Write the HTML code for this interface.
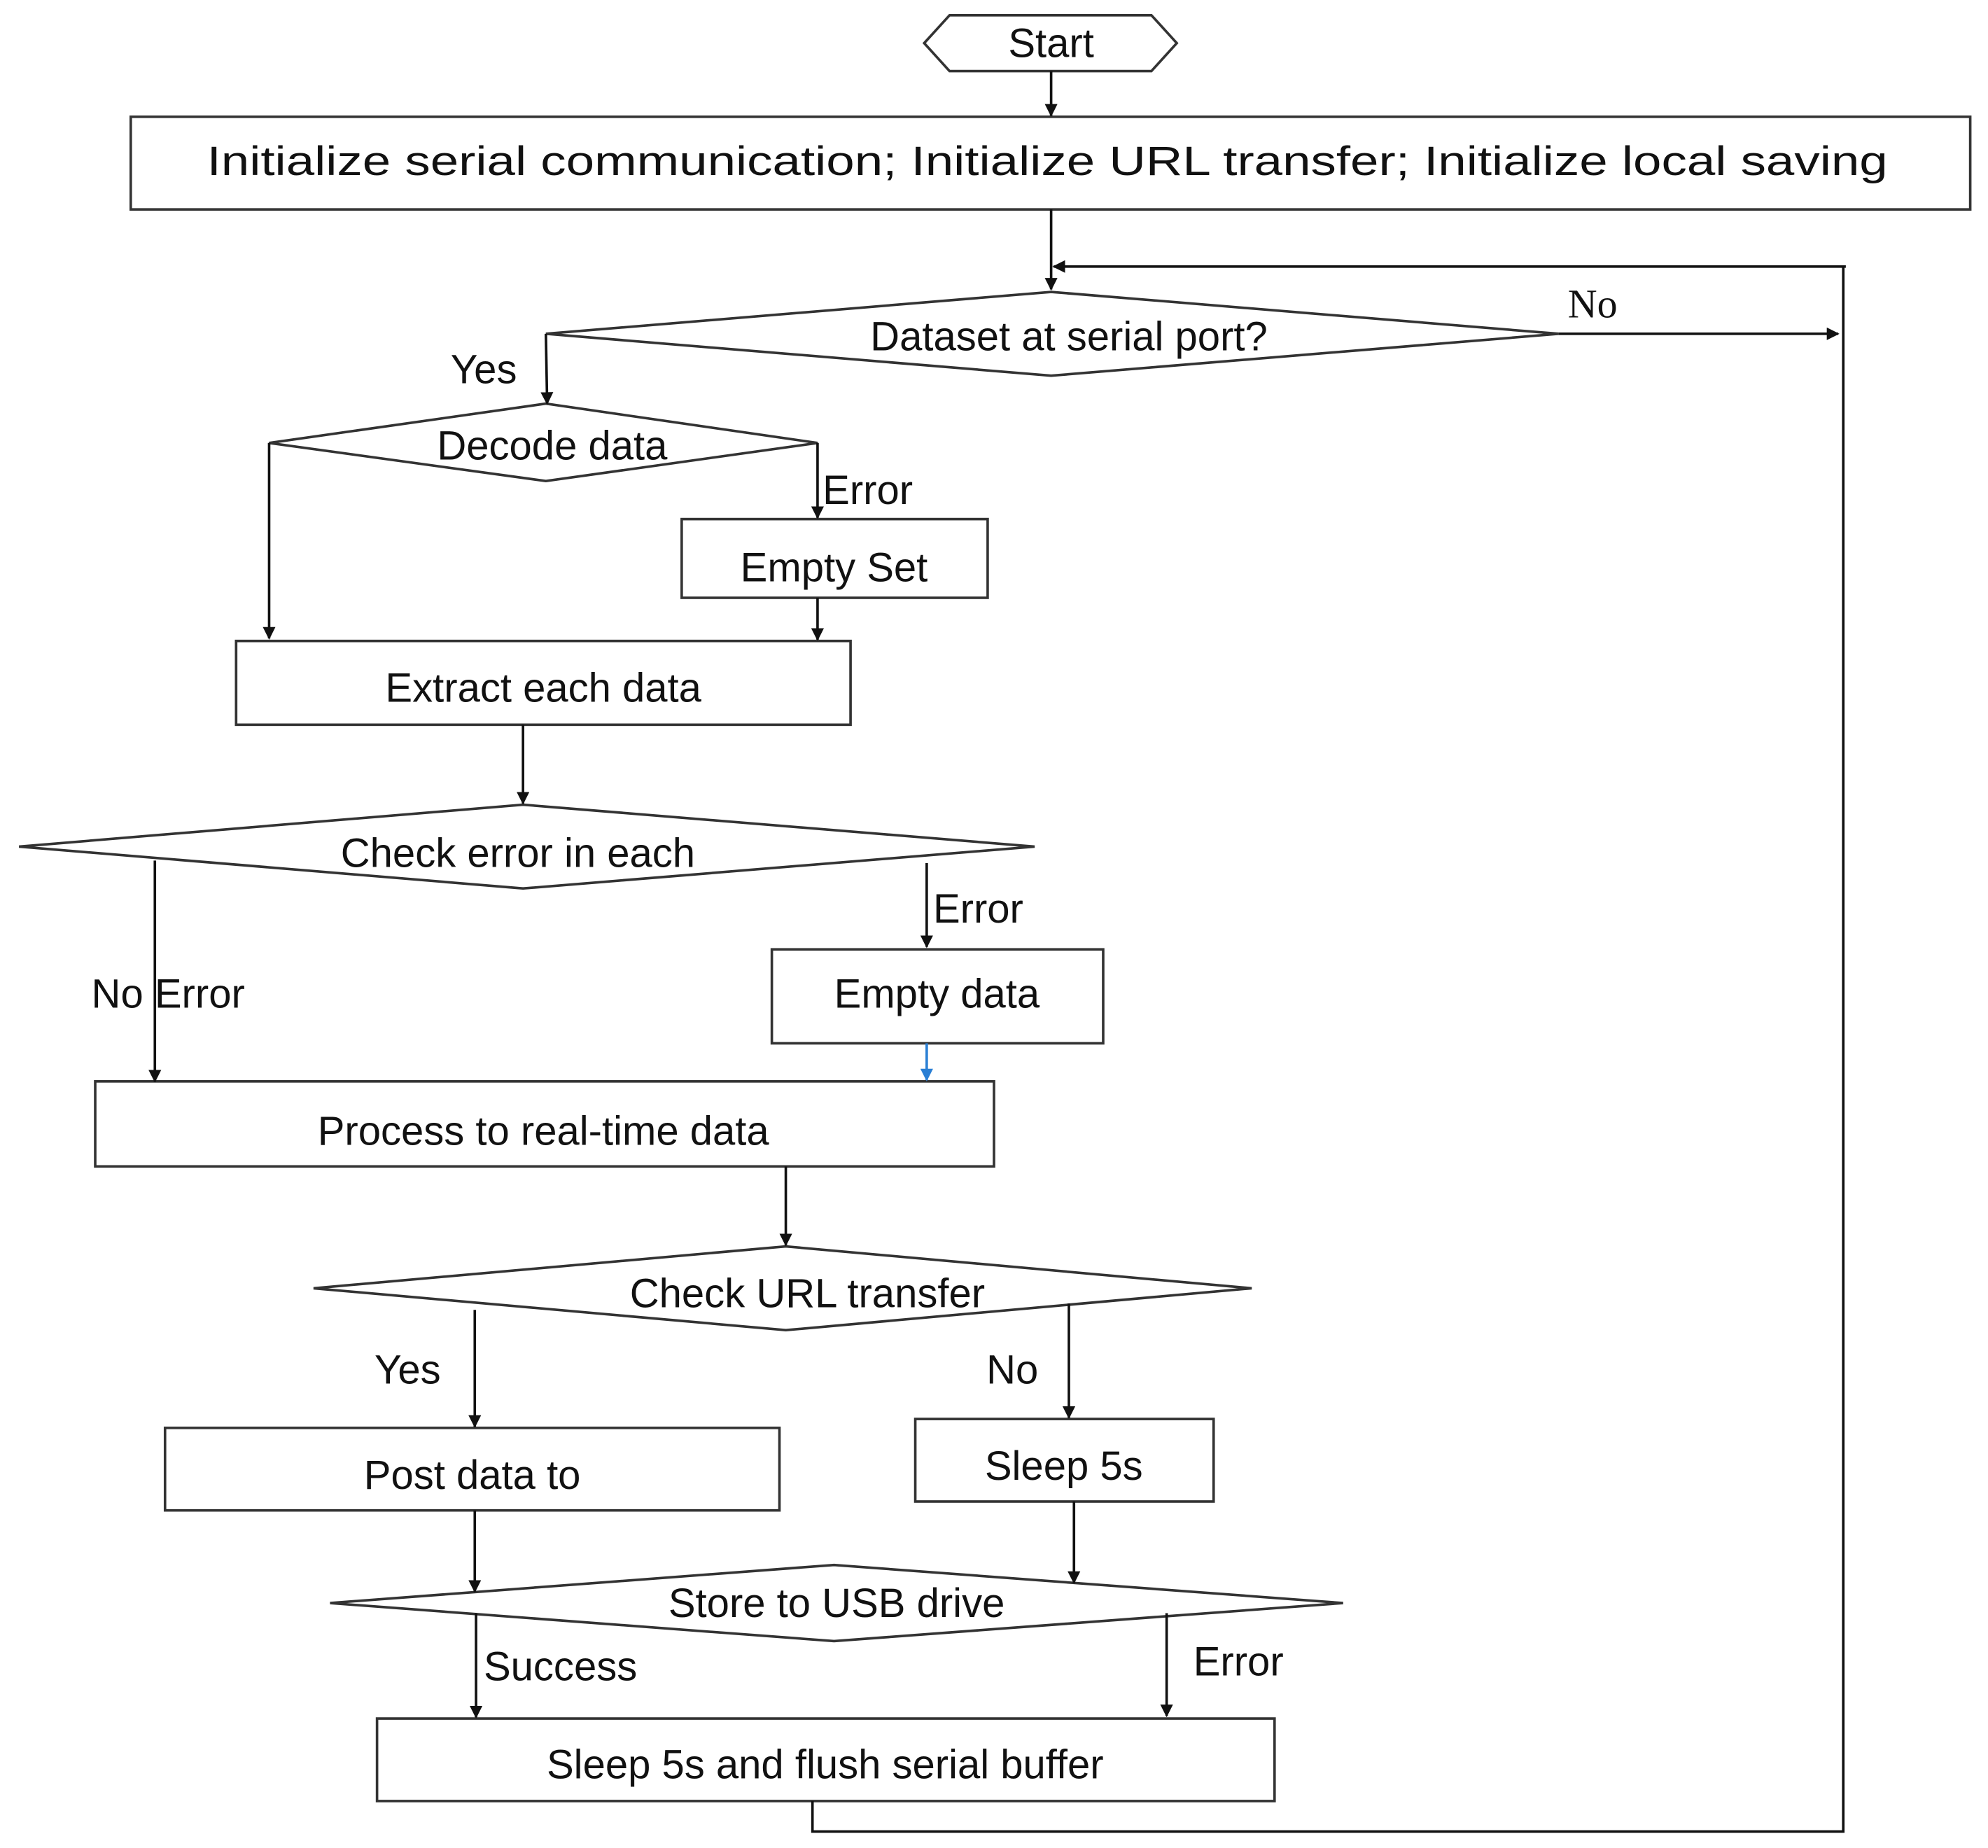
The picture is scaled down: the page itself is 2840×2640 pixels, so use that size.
<!DOCTYPE html>
<html><head><meta charset="utf-8"><style>
html,body{margin:0;padding:0;background:#fff;}
svg{display:block;}
text{font-family:"Liberation Sans",Arial,sans-serif;font-size:32px;fill:#111;}
</style></head><body>
<svg width="2840" height="2640" viewBox="0 0 1566 1456" preserveAspectRatio="none" xmlns="http://www.w3.org/2000/svg">
<defs>
<marker id="a" markerWidth="10" markerHeight="10" refX="9" refY="5" orient="auto" markerUnits="userSpaceOnUse" viewBox="0 0 10 10"><path d="M0,0 L10,5 L0,10 z" fill="#111"/></marker>
<marker id="b" markerWidth="10" markerHeight="10" refX="9" refY="5" orient="auto" markerUnits="userSpaceOnUse" viewBox="0 0 10 10"><path d="M0,0 L10,5 L0,10 z" fill="#2a7fd4"/></marker>
</defs>
<g fill="none" stroke="#333" stroke-width="2">
<polygon points="728,34 748,12 907,12 927,34 907,56 748,56"/>
<rect x="103" y="92" width="1449" height="73"/>
<polygon points="430,263 828,230 1228,263 828,296"/>
<polygon points="212,349 430,318 644,349 430,379"/>
<rect x="537" y="409" width="241" height="62"/>
<rect x="186" y="505" width="484" height="66"/>
<polygon points="15,667 412,634 815,667 412,700"/>
<rect x="608" y="748" width="261" height="74"/>
<rect x="75" y="852" width="708" height="67"/>
<polygon points="247,1015 619,982 986,1015 619,1048"/>
<rect x="130" y="1125" width="484" height="65"/>
<rect x="721" y="1118" width="235" height="65"/>
<polygon points="260,1263 657,1233 1058,1263 657,1293"/>
<rect x="297" y="1354" width="707" height="65"/>
</g>
<g fill="none" stroke="#111" stroke-width="2">
<line x1="828" y1="56" x2="828" y2="91" marker-end="url(#a)"/>
<line x1="828" y1="165" x2="828" y2="228" marker-end="url(#a)"/>
<polyline points="640,1419 640,1443 1452,1443 1452,210 1454,210"/>
<line x1="1452" y1="210" x2="830" y2="210" marker-end="url(#a)"/>
<line x1="1228" y1="263" x2="1448" y2="263" marker-end="url(#a)"/>
<line x1="430" y1="263" x2="431" y2="318" marker-end="url(#a)"/>
<line x1="212" y1="349" x2="212" y2="503" marker-end="url(#a)"/>
<line x1="644" y1="349" x2="644" y2="408" marker-end="url(#a)"/>
<line x1="644" y1="471" x2="644" y2="504" marker-end="url(#a)"/>
<line x1="412" y1="571" x2="412" y2="633" marker-end="url(#a)"/>
<line x1="122" y1="678" x2="122" y2="852" marker-end="url(#a)"/>
<line x1="730" y1="680" x2="730" y2="746" marker-end="url(#a)"/>
<line x1="619" y1="919" x2="619" y2="981" marker-end="url(#a)"/>
<line x1="374" y1="1032" x2="374" y2="1124" marker-end="url(#a)"/>
<line x1="842" y1="1027" x2="842" y2="1117" marker-end="url(#a)"/>
<line x1="374" y1="1190" x2="374" y2="1254" marker-end="url(#a)"/>
<line x1="846" y1="1183" x2="846" y2="1247" marker-end="url(#a)"/>
<line x1="375" y1="1271" x2="375" y2="1353" marker-end="url(#a)"/>
<line x1="919" y1="1271" x2="919" y2="1352" marker-end="url(#a)"/>
</g>
<line x1="730" y1="822" x2="730" y2="851" stroke="#2a7fd4" stroke-width="2" marker-end="url(#b)"/>
<text x="828" y="45" text-anchor="middle">Start</text>
<text x="163" y="138" textLength="1324" lengthAdjust="spacingAndGlyphs">Initialize serial communication; Initialize URL transfer; Initialize local saving</text>
<text x="842" y="276" text-anchor="middle">Dataset at serial port?</text>
<text x="1235" y="250" style="font-family:'Liberation Serif',serif;font-size:32px">No</text>
<text x="355" y="302">Yes</text>
<text x="435" y="362" text-anchor="middle">Decode data</text>
<text x="648" y="397">Error</text>
<text x="657" y="458" text-anchor="middle">Empty Set</text>
<text x="428" y="553" text-anchor="middle">Extract each data</text>
<text x="408" y="683" text-anchor="middle">Check error in each</text>
<text x="735" y="727">Error</text>
<text x="72" y="794">No Error</text>
<text x="738" y="794" text-anchor="middle">Empty data</text>
<text x="428" y="902" text-anchor="middle">Process to real-time data</text>
<text x="636" y="1030" text-anchor="middle">Check URL transfer</text>
<text x="295" y="1090">Yes</text>
<text x="777" y="1090">No</text>
<text x="372" y="1173" text-anchor="middle">Post data to</text>
<text x="838" y="1166" text-anchor="middle">Sleep 5s</text>
<text x="659" y="1274" text-anchor="middle">Store to USB drive</text>
<text x="381" y="1324">Success</text>
<text x="940" y="1320">Error</text>
<text x="650" y="1401" text-anchor="middle">Sleep 5s and flush serial buffer</text>
</svg>
</body></html>
